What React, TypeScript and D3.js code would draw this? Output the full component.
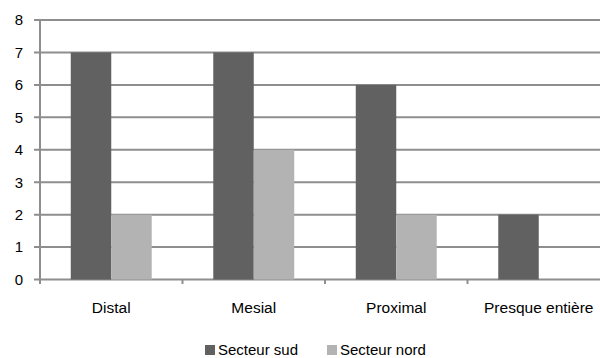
import React from "react";
import * as d3 from "d3";

const categories = ["Distal", "Mesial", "Proximal", "Presque entière"];
const seriesNames = ["Secteur sud", "Secteur nord"];
const sudValues = [7, 7, 6, 2];
const nordValues = [2, 4, 2, 0];
const yTicks = [0, 1, 2, 3, 4, 5, 6, 7, 8];

const colors = ["#616161", "#b3b3b3"];
const gridColor = "#8e8e8e";
const font = "'Liberation Sans', Arial, sans-serif";

export default function App() {
  const W = 600, H = 358;
  const left = 40, right = 610, top = 20, bottom = 279.5;
  const x = d3.scaleBand<string>().domain(categories).range([left, right]).paddingInner(0).paddingOuter(0);
  const x1 = d3.scaleBand<string>().domain(seriesNames).range([0, x.bandwidth()]).paddingInner(0).paddingOuter(0.76);
  const y = d3.scaleLinear().domain([0, 8]).range([bottom, top]);
  const data = [sudValues, nordValues];

  return (
    <svg width={W} height={H} style={{ position: "absolute", left: 0, top: 0, background: "#fff" }}>
      {yTicks.map((t) => (
        <g key={t}>
          <line x1={left - 6} x2={W} y1={y(t)} y2={y(t)} stroke={gridColor} strokeWidth={2} />
          <text x={23} y={y(t)} dy="0.36em" textAnchor="end" fontFamily={font} fontSize={15} fill="#000">{t}</text>
        </g>
      ))}
      {data.map((vals, si) =>
        vals.map((v, ci) =>
          v > 0 ? (
            <rect key={`${si}-${ci}`} x={x(categories[ci])! + x1(seriesNames[si])!} y={y(v)} width={x1.bandwidth()} height={y(0) - y(v)} fill={colors[si]} />
          ) : null
        )
      )}
      <line x1={left} x2={left} y1={top} y2={bottom + 4.5} stroke={gridColor} strokeWidth={2} />
      {categories.map((c, i) => (
        <line key={"t" + i} x1={x(c)! + x.bandwidth()} x2={x(c)! + x.bandwidth()} y1={bottom} y2={bottom + 4.5} stroke={gridColor} strokeWidth={2} />
      ))}
      {categories.map((c) => (
        <text key={c} x={x(c)! + x.bandwidth() / 2} y={313} textAnchor="middle" fontFamily={font} fontSize={15.5} fill="#000">{c}</text>
      ))}
      {seriesNames.map((s, i) => {
        const lx = [205, 327][i];
        return (
          <g key={s}>
            <rect x={lx} y={345} width={10} height={10} fill={colors[i]} />
            <text x={lx + 13} y={355} fontFamily={font} fontSize={15} fill="#000">{s}</text>
          </g>
        );
      })}
    </svg>
  );
}
